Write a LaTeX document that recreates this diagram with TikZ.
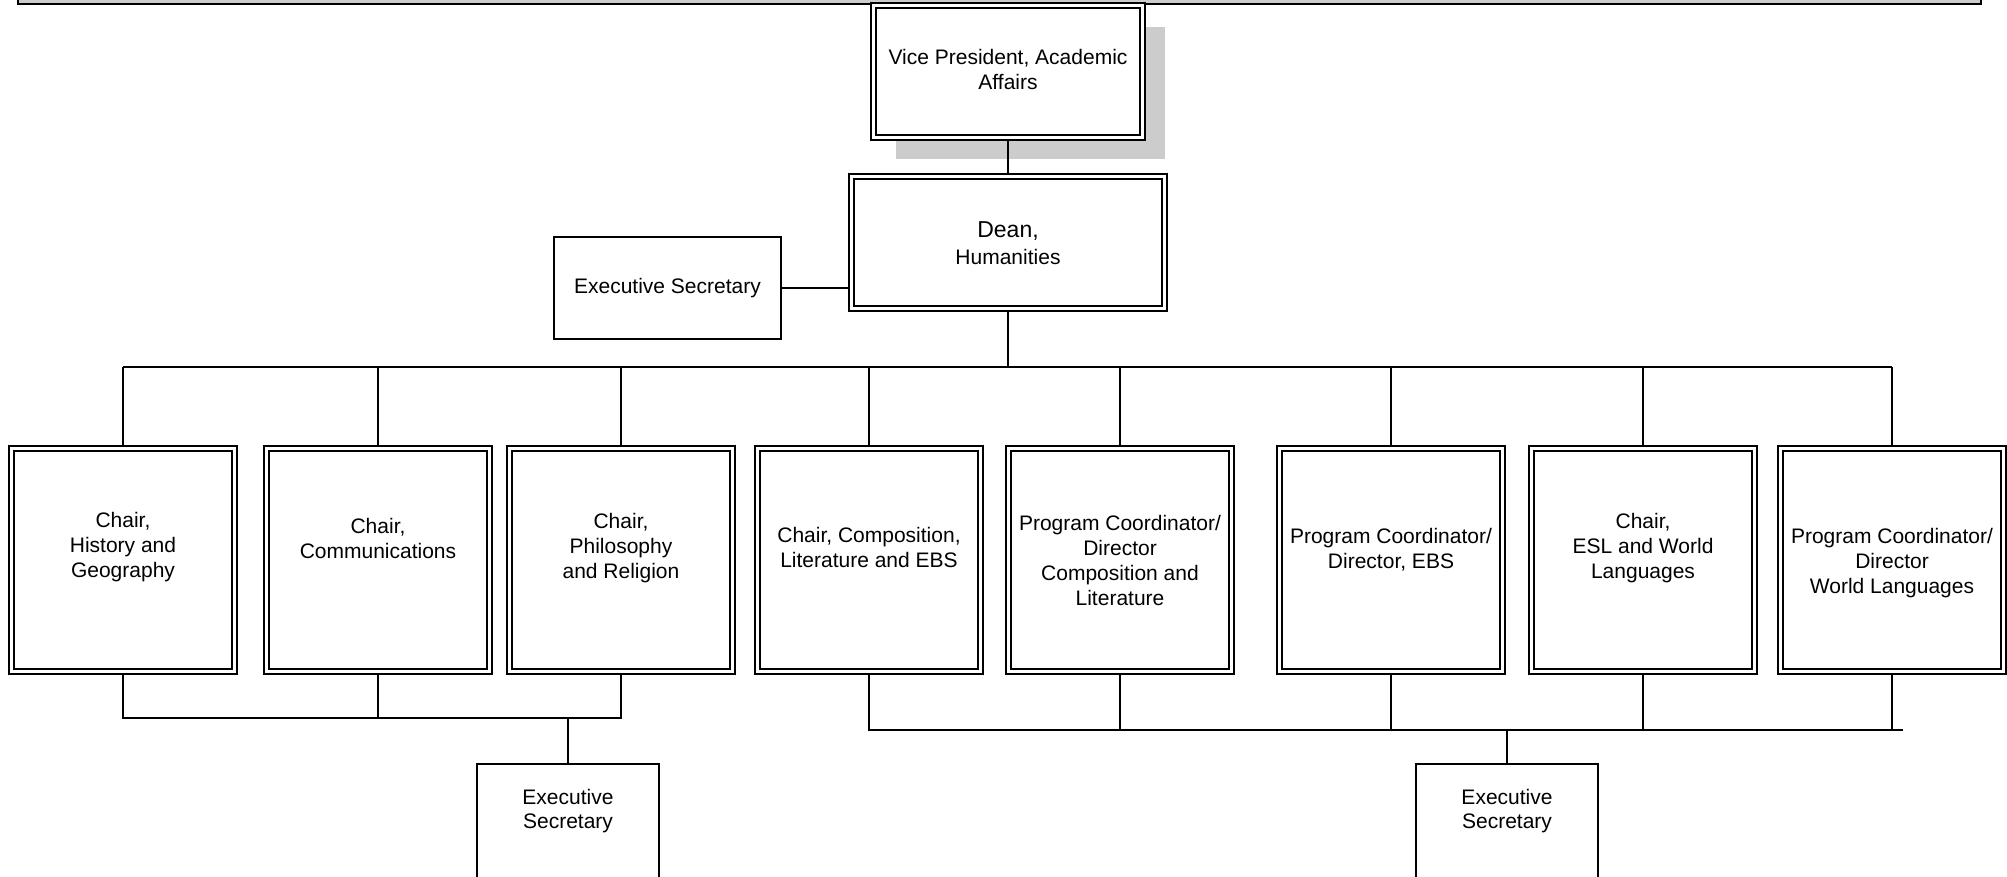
\documentclass[tikz,border=0pt]{standalone}
\usepackage{fontspec}
\setmainfont{Liberation Sans}
\usetikzlibrary{shadows}
\newcommand{\mline}[1]{\begin{tabular}[t]{@{}c@{}}#1\end{tabular}}
\begin{document}
\begin{tikzpicture}[x=1pt,y=-1pt,
  every node/.style={font=\fontsize{21}{25}\selectfont},
  dbox/.style={rectangle, draw, double, line width=2pt, double distance=3pt,
    fill=white, inner sep=0pt, outer sep=3.5pt, align=center},
  chairbox/.style={dbox, minimum width=223pt, minimum height=223pt},
  sbox/.style={rectangle, draw, line width=2pt, fill=white, inner sep=0pt, align=center},
  conn/.style={line width=2pt},
  barstyle/.style={draw, line width=2pt, fill=black!20}]
\useasboundingbox (0,0) rectangle (2007,877);
\clip (0,0) rectangle (2007,877);

% top bar
\draw[barstyle] (18,-10) rectangle (1981,4);

% top level
\node[dbox, minimum width=269pt, font=\fontsize{21}{25}\selectfont,
      text height=59.5pt, text depth=72.5pt,
      drop shadow={shadow xshift=22pt, shadow yshift=-22pt, fill=black!20, opacity=1}]
  (vp) at (1008,71.5) {\mline{Vice President, Academic\\Affairs}};
\node[dbox, minimum width=313pt, font=\fontsize{21}{27}\selectfont,
      text height=61.5pt, text depth=70.5pt]
  (dean) at (1008,242.5) {\mline{{\fontsize{23}{27}\selectfont Dean,}\\Humanities}};
\node[sbox, minimum width=227pt, minimum height=102pt, text height=16pt, text depth=4pt] (es) at (667.5,288) {Executive Secretary};

% chairs
\node[chairbox, text height=78.5pt, text depth=144.5pt] (c1) at (123,560) {\mline{Chair,\\History and\\Geography}};
\node[chairbox, text height=84.5pt, text depth=138.5pt] (c2) at (378,560) {\mline{Chair,\\Communications}};
\node[chairbox, text height=79.5pt, text depth=143.5pt] (c3) at (621,560) {\mline{Chair,\\Philosophy\\and Religion}};
\node[chairbox, text height=93.5pt, text depth=129.5pt] (c4) at (869,560) {\mline{Chair, Composition,\\Literature and EBS}};
\node[chairbox, text height=81.5pt, text depth=141.5pt] (c5) at (1120,560) {\mline{Program Coordinator/\\Director\\Composition and\\Literature}};
\node[chairbox, text height=94.5pt, text depth=128.5pt] (c6) at (1391,560) {\mline{Program Coordinator/\\Director, EBS}};
\node[chairbox, text height=79.5pt, text depth=143.5pt] (c7) at (1643,560) {\mline{Chair,\\ESL and World\\Languages}};
\node[chairbox, text height=94.5pt, text depth=128.5pt] (c8) at (1892,560) {\mline{Program Coordinator/\\Director\\World Languages}};

% bottom secretaries
\node[sbox, anchor=north, minimum width=182pt, font=\fontsize{21}{24}\selectfont,
      text height=40pt, text depth=100pt] (ls) at (568,763) {\mline{Executive\\Secretary}};
\node[sbox, anchor=north, minimum width=182pt, font=\fontsize{21}{24}\selectfont,
      text height=40pt, text depth=100pt] (rs) at (1507,763) {\mline{Executive\\Secretary}};

% connectors
\coordinate (bus) at (0,367);
\coordinate (lb) at (0,718);
\coordinate (rb) at (0,730);
\coordinate (rbend) at (1903,730);

\draw[conn] (vp.south) -- (vp.south |- dean.north);
\draw[conn] (es.east) -- (es.east -| dean.west);
\draw[conn] (dean.south) -- (dean.south |- bus);
\draw[conn] (c1.north |- bus) -- (c8.north |- bus);
\foreach \c in {c1,c2,c3,c4,c5,c6,c7,c8}
  \draw[conn] (\c.north) -- (\c.north |- bus);

\draw[conn] (c1.south) -- (c1.south |- lb) -- (c3.south |- lb) -- (c3.south);
\draw[conn] (c2.south) -- (c2.south |- lb);
\draw[conn] (ls.north) -- (ls.north |- lb);

\draw[conn] (c4.south) -- (c4.south |- rb) -- (rbend);
\foreach \c in {c5,c6,c7,c8}
  \draw[conn] (\c.south) -- (\c.south |- rb);
\draw[conn] (rs.north) -- (rs.north |- rb);
\end{tikzpicture}
\end{document}
